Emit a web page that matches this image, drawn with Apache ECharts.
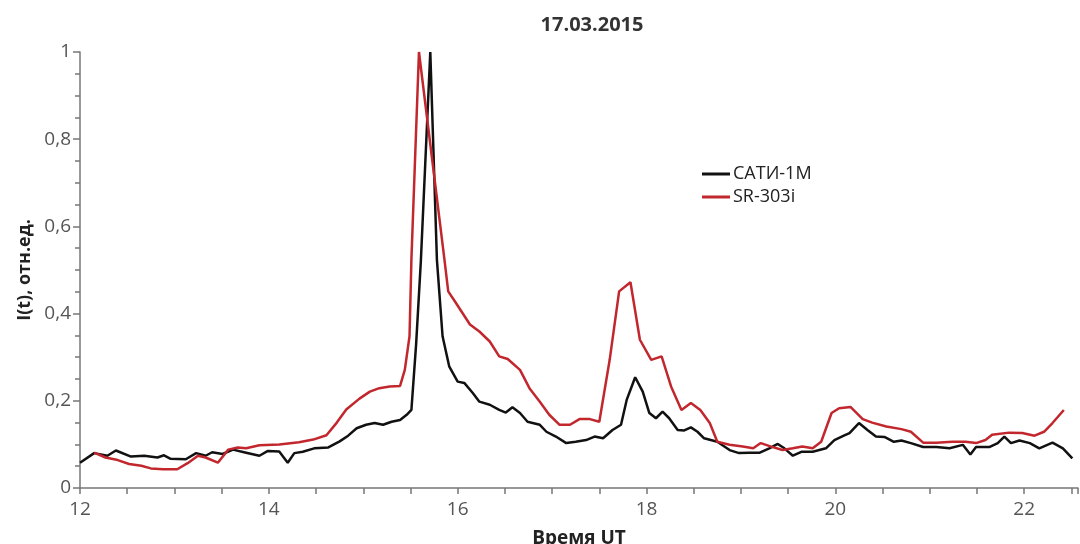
<!DOCTYPE html>
<html>
<head>
<meta charset="utf-8">
<script src="https://cdn.jsdelivr.net/npm/echarts@6/dist/echarts.min.js"></script>
<style>
html,body{margin:0;padding:0;background:#fff;}
#chart{width:1080px;height:544px;}
</style>
</head>
<body>
<div id="chart"></div>
<script>
// время UT (часы) и значения I(t)
var satiTime=[12,12.15,12.29,12.38,12.54,12.68,12.82,12.89,12.96,13.12,13.23,13.33,13.4,13.51,13.62,13.76,13.9,13.99,14.11,14.2,14.27,14.36,14.48,14.63,14.75,14.84,14.93,15.03,15.12,15.21,15.3,15.39,15.46,15.51,15.56,15.61,15.71,15.78,15.84,15.91,16.0,16.07,16.16,16.23,16.34,16.44,16.51,16.58,16.66,16.74,16.87,16.94,17.04,17.15,17.25,17.36,17.45,17.54,17.64,17.73,17.79,17.88,17.96,18.03,18.1,18.17,18.24,18.33,18.4,18.47,18.54,18.61,18.75,18.88,18.98,19.09,19.2,19.3,19.39,19.46,19.55,19.64,19.76,19.9,19.99,20.09,20.15,20.25,20.34,20.43,20.52,20.62,20.7,20.8,20.93,21.07,21.21,21.35,21.43,21.49,21.63,21.72,21.79,21.86,21.95,22.06,22.16,22.3,22.41,22.51];
var satiVal=[0.058,0.08,0.074,0.086,0.072,0.074,0.07,0.075,0.067,0.066,0.08,0.074,0.082,0.078,0.088,0.081,0.074,0.085,0.084,0.058,0.08,0.083,0.091,0.093,0.107,0.12,0.137,0.145,0.149,0.145,0.152,0.156,0.168,0.179,0.33,0.52,1.0,0.524,0.348,0.279,0.244,0.241,0.218,0.198,0.191,0.179,0.173,0.185,0.172,0.152,0.145,0.129,0.118,0.103,0.106,0.11,0.118,0.114,0.133,0.145,0.202,0.254,0.221,0.172,0.16,0.175,0.16,0.133,0.132,0.139,0.129,0.114,0.106,0.087,0.08,0.081,0.081,0.091,0.101,0.091,0.074,0.083,0.083,0.091,0.11,0.12,0.126,0.149,0.133,0.118,0.117,0.106,0.109,0.103,0.094,0.094,0.091,0.099,0.077,0.094,0.094,0.103,0.118,0.103,0.109,0.103,0.091,0.104,0.091,0.068];

var srTime=[12.15,12.27,12.4,12.52,12.65,12.75,12.88,13.03,13.14,13.25,13.33,13.46,13.57,13.67,13.76,13.9,14.11,14.32,14.47,14.61,14.72,14.82,14.96,15.07,15.17,15.28,15.39,15.44,15.49,15.51,15.59,15.86,15.9,15.98,16.13,16.23,16.34,16.44,16.53,16.66,16.76,16.87,16.97,17.08,17.19,17.29,17.4,17.5,17.61,17.71,17.83,17.93,18.05,18.16,18.26,18.37,18.47,18.57,18.67,18.75,18.88,19.02,19.13,19.21,19.32,19.44,19.55,19.65,19.76,19.85,19.96,20.04,20.16,20.29,20.39,20.54,20.7,20.8,20.93,21.07,21.24,21.38,21.49,21.59,21.66,21.84,21.98,22.11,22.21,22.3,22.42];
var srVal=[0.081,0.07,0.064,0.055,0.051,0.045,0.043,0.043,0.057,0.074,0.07,0.058,0.088,0.093,0.091,0.098,0.1,0.105,0.111,0.121,0.15,0.18,0.205,0.221,0.229,0.233,0.234,0.271,0.348,0.524,1.0,0.524,0.451,0.425,0.375,0.359,0.336,0.302,0.296,0.271,0.229,0.198,0.168,0.145,0.145,0.158,0.158,0.152,0.294,0.451,0.472,0.34,0.294,0.302,0.233,0.179,0.195,0.179,0.149,0.106,0.099,0.095,0.091,0.103,0.095,0.087,0.091,0.095,0.091,0.106,0.172,0.183,0.186,0.158,0.15,0.141,0.135,0.129,0.104,0.104,0.106,0.106,0.103,0.11,0.122,0.127,0.126,0.12,0.129,0.149,0.179];

var toPairs=function(t,v){
	var out=[];
	for(var i=0;i<t.length;i++){
		out.push([t[i],v[i]]);
	}
	return out;
}

var dom=document.getElementById("chart");
var myChart=echarts.init(dom);
var axisColor='#777';
var labelColor='#555';

var option={
	animation:false,
	title:{
		text:'17.03.2015',
		left:587,
		top:10,
		textAlign:'center',
		textStyle:{fontFamily:'Open Sans',fontSize:20,fontWeight:'bold',color:'#333'}
	},
	legend:{
		orient:'vertical',
		left:697,
		top:160,
		itemWidth:28,
		itemHeight:3,
		itemGap:5,
		icon:'rect',
		textStyle:{fontFamily:'Open Sans',fontSize:18,color:'#222',padding:[0,0,0,-2]},
		data:['САТИ-1М','SR-303i']
	},
	grid:{left:80,right:2,top:52,bottom:56,containLabel:false,outerBoundsMode:'none'},
	xAxis:{
		type:'value',
		min:12,
		max:22.57,
		interval:2,
		name:'Время UT',
		nameLocation:'middle',
		nameGap:41,
		nameTextStyle:{fontFamily:'Open Sans',fontSize:19,fontWeight:'bold',color:'#222'},
		axisLine:{lineStyle:{color:axisColor,width:1.5}},
		axisTick:{show:true,length:6,lineStyle:{color:axisColor,width:1.5}},
		minorTick:{show:true,splitNumber:4,length:6,lineStyle:{color:axisColor,width:1.5}},
		splitLine:{show:false},
		axisLabel:{fontFamily:'Open Sans',fontSize:19,color:labelColor,margin:12,showMaxLabel:false}
	},
	yAxis:{
		type:'value',
		min:0,
		max:1,
		interval:0.2,
		name:'I(t), отн.ед.',
		nameLocation:'middle',
		nameGap:44,
		nameTextStyle:{fontFamily:'Open Sans',fontSize:18,fontWeight:'bold',color:'#222'},
		axisLine:{show:true,lineStyle:{color:axisColor,width:1.5}},
		axisTick:{show:true,length:7,lineStyle:{color:axisColor,width:1.5}},
		minorTick:{show:true,splitNumber:4,length:5,lineStyle:{color:axisColor,width:1.5}},
		splitLine:{show:false},
		axisLabel:{
			fontFamily:'Open Sans',fontSize:19,color:labelColor,margin:9,
			formatter:function(v){return v===0||v===1?String(v):v.toFixed(1).replace('.',',');}
		}
	},
	series:[
		{
			name:'САТИ-1М',
			type:'line',
			data:toPairs(satiTime,satiVal),
			showSymbol:false,
			color:'#111',
			lineStyle:{width:2.5,color:'#111'}
		},
		{
			name:'SR-303i',
			type:'line',
			data:toPairs(srTime,srVal),
			showSymbol:false,
			color:'#c1272d',
			lineStyle:{width:2.5,color:'#c1272d'}
		}
	]
};
myChart.setOption(option);
</script>
</body>
</html>
